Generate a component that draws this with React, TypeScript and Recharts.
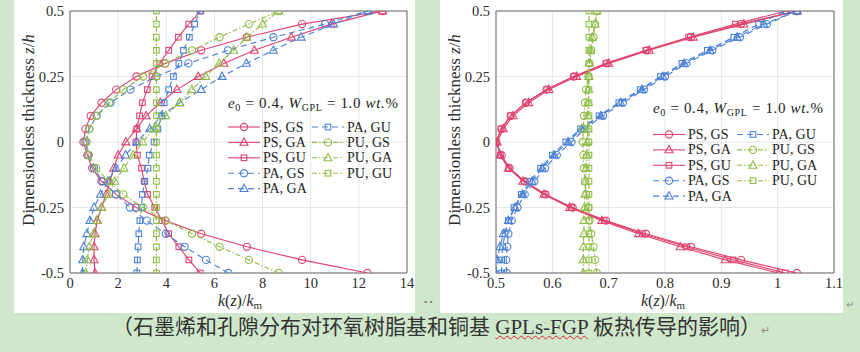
import React from "react";
import {
  CartesianGrid,
  ReferenceArea,
  Scatter,
  ScatterChart,
  XAxis,
  YAxis,
} from "recharts";

// thickness coordinate z/h, bottom to top
const Z = [
  -0.5, -0.45, -0.4, -0.35, -0.3, -0.25, -0.2, -0.15, -0.1, -0.05, 0, 0.05, 0.1,
  0.15, 0.2, 0.25, 0.3, 0.35, 0.4, 0.45, 0.5,
];
const Z_TICKS = [-0.5, -0.25, 0, 0.25, 0.5];
const EPOXY_TICKS = [0, 2, 4, 6, 8, 10, 12, 14];
const COPPER_TICKS = [0.5, 0.6, 0.7, 0.8, 0.9, 1.0, 1.1];

// epoxy matrix k(z)/km
const EPOXY_PS_GS = [12.36, 9.64, 7.35, 5.45, 3.96, 2.75, 1.91, 1.31, 0.92, 0.72, 0.56, 0.64, 0.86, 1.31, 1.92, 2.76, 3.95, 5.45, 7.34, 9.64, 12.98];
const EPOXY_PS_GA = [1.04, 1.0, 1.0, 1.04, 1.13, 1.31, 1.5, 1.65, 1.82, 2.0, 2.32, 2.76, 3.16, 3.75, 4.44, 5.33, 6.39, 7.66, 9.2, 10.85, 12.98];
const EPOXY_PS_GU = [5.41, 4.94, 4.52, 4.1, 3.82, 3.52, 3.22, 3.08, 2.97, 2.8, 2.74, 2.78, 2.89, 3.01, 3.21, 3.41, 3.73, 4.1, 4.5, 4.93, 5.43];
const EPOXY_PA_GS = [6.58, 5.65, 4.76, 3.98, 3.19, 2.49, 1.91, 1.36, 1.0, 0.76, 0.64, 0.8, 1.11, 1.68, 2.51, 3.59, 4.92, 6.56, 8.45, 10.6, 12.36];
const EPOXY_PA_GA = [0.52, 0.53, 0.57, 0.7, 0.83, 1.0, 1.27, 1.58, 1.91, 2.31, 2.77, 3.31, 3.8, 4.56, 5.45, 6.32, 7.33, 8.45, 9.6, 10.95, 12.36];
const EPOXY_PA_GU = [2.78, 2.8, 2.83, 2.86, 2.9, 2.97, 3.01, 3.11, 3.24, 3.29, 3.49, 3.65, 3.8, 3.91, 4.1, 4.3, 4.52, 4.71, 4.96, 5.18, 5.4];
const EPOXY_PU_GS = [8.67, 7.43, 6.21, 5.07, 3.97, 3.04, 2.22, 1.61, 1.09, 0.78, 0.69, 0.8, 1.1, 1.62, 2.21, 3.04, 3.96, 5.07, 6.21, 7.43, 8.67];
const EPOXY_PU_GA = [0.66, 0.72, 0.8, 0.97, 1.1, 1.31, 1.59, 1.86, 2.24, 2.62, 3.02, 3.5, 3.97, 4.55, 5.06, 5.64, 6.2, 6.8, 7.35, 8.0, 8.67];
const EPOXY_PU_GU = [3.59, 3.59, 3.59, 3.59, 3.59, 3.59, 3.59, 3.59, 3.59, 3.59, 3.59, 3.59, 3.59, 3.59, 3.59, 3.59, 3.59, 3.59, 3.59, 3.59, 3.59];

// copper matrix k(z)/km
const COPPER_PS_GS = [1.034, 0.935, 0.846, 0.766, 0.695, 0.636, 0.588, 0.551, 0.524, 0.51, 0.5, 0.51, 0.526, 0.553, 0.59, 0.638, 0.697, 0.768, 0.846, 0.935, 1.034];
const COPPER_PS_GA = [1.001, 0.907, 0.827, 0.753, 0.688, 0.631, 0.585, 0.548, 0.522, 0.507, 0.502, 0.513, 0.53, 0.558, 0.594, 0.643, 0.7, 0.772, 0.85, 0.94, 1.035];
const COPPER_PS_GU = [1.013, 0.921, 0.838, 0.76, 0.692, 0.634, 0.587, 0.55, 0.523, 0.508, 0.5, 0.509, 0.526, 0.553, 0.59, 0.638, 0.695, 0.766, 0.842, 0.925, 1.015];
const COPPER_PA_GS = [0.519, 0.518, 0.52, 0.522, 0.528, 0.538, 0.551, 0.568, 0.587, 0.608, 0.634, 0.657, 0.69, 0.725, 0.763, 0.8, 0.838, 0.884, 0.933, 0.981, 1.034];
const COPPER_PA_GA = [0.5, 0.502, 0.507, 0.513, 0.522, 0.534, 0.547, 0.564, 0.582, 0.603, 0.628, 0.652, 0.686, 0.721, 0.759, 0.796, 0.834, 0.88, 0.928, 0.975, 1.034];
const COPPER_PA_GU = [0.51, 0.51, 0.512, 0.516, 0.522, 0.532, 0.545, 0.56, 0.579, 0.6, 0.624, 0.65, 0.683, 0.718, 0.756, 0.792, 0.83, 0.875, 0.922, 0.966, 1.013];
const COPPER_PU_GS = [0.679, 0.676, 0.673, 0.669, 0.666, 0.664, 0.66, 0.658, 0.656, 0.655, 0.654, 0.655, 0.656, 0.658, 0.66, 0.664, 0.666, 0.669, 0.673, 0.676, 0.679];
const COPPER_PU_GA = [0.655, 0.655, 0.655, 0.656, 0.656, 0.657, 0.658, 0.659, 0.66, 0.661, 0.662, 0.663, 0.663, 0.664, 0.664, 0.665, 0.666, 0.668, 0.671, 0.676, 0.679];
const COPPER_PU_GU = [0.665, 0.665, 0.665, 0.665, 0.665, 0.665, 0.665, 0.665, 0.665, 0.665, 0.665, 0.665, 0.665, 0.665, 0.665, 0.665, 0.665, 0.665, 0.665, 0.665, 0.665];

const SERIES = [
  { label: "PS, GS", p: "PS", g: "GS", epoxy: EPOXY_PS_GS, copper: COPPER_PS_GS },
  { label: "PS, GA", p: "PS", g: "GA", epoxy: EPOXY_PS_GA, copper: COPPER_PS_GA },
  { label: "PS, GU", p: "PS", g: "GU", epoxy: EPOXY_PS_GU, copper: COPPER_PS_GU },
  { label: "PA, GS", p: "PA", g: "GS", epoxy: EPOXY_PA_GS, copper: COPPER_PA_GS },
  { label: "PA, GA", p: "PA", g: "GA", epoxy: EPOXY_PA_GA, copper: COPPER_PA_GA },
  { label: "PA, GU", p: "PA", g: "GU", epoxy: EPOXY_PA_GU, copper: COPPER_PA_GU },
  { label: "PU, GS", p: "PU", g: "GS", epoxy: EPOXY_PU_GS, copper: COPPER_PU_GS },
  { label: "PU, GA", p: "PU", g: "GA", epoxy: EPOXY_PU_GA, copper: COPPER_PU_GA },
  { label: "PU, GU", p: "PU", g: "GU", epoxy: EPOXY_PU_GU, copper: COPPER_PU_GU },
];

const BG = "#cfe7cb";
const SERIF = "'Liberation Serif', 'Times New Roman', serif";
const COLOR: Record<string, string> = { PS: "#e0436f", PA: "#4a80d8", PU: "#8fbd46" };
const DASH: Record<string, string | undefined> = { PS: undefined, PA: "6 4", PU: "5 2 1.5 2" };

function Marker({ cx, cy, g, color }: { cx?: number; cy?: number; g: string; color: string }) {
  if (cx == null || cy == null) return null;
  const common = { fill: "none", stroke: color, strokeWidth: 1.1 };
  if (g === "GS") return <circle cx={cx} cy={cy} r={3.6} {...common} />;
  if (g === "GU") return <rect x={cx - 2.8} y={cy - 2.8} width={5.6} height={5.6} {...common} />;
  return (
    <polygon
      points={`${cx},${cy - 4.4} ${cx - 4},${cy + 2.9} ${cx + 4},${cy + 2.9}`}
      {...common}
    />
  );
}

const fmt = (v: number) => String(v);

function Panel({
  which,
  ticks,
  width,
  marginLeft,
  marginRight,
}: {
  which: "epoxy" | "copper";
  ticks: number[];
  width: number;
  marginLeft: number;
  marginRight: number;
}) {
  const lo = ticks[0];
  const hi = ticks[ticks.length - 1];
  const tickStyle = { fontFamily: SERIF, fontSize: 14.5, fill: "#2b2b2b" };
  return (
    <ScatterChart
      width={width}
      height={313}
      margin={{ top: 11, right: marginRight, bottom: 10, left: marginLeft }}
    >
      <CartesianGrid stroke="#e4e4e4" strokeWidth={1} />
      <XAxis
        type="number"
        dataKey="k"
        domain={[lo, hi]}
        ticks={ticks}
        tickFormatter={fmt}
        allowDataOverflow
        axisLine={false}
        tickLine={false}
        tickSize={0}
        tickMargin={5}
        height={30}
        tick={tickStyle}
      />
      <YAxis
        type="number"
        dataKey="z"
        domain={[-0.5, 0.5]}
        ticks={Z_TICKS}
        tickFormatter={fmt}
        allowDataOverflow
        axisLine={false}
        tickLine={false}
        tickSize={0}
        tickMargin={6}
        width={40}
        tick={tickStyle}
      />
      {SERIES.map((s) => {
        const color = COLOR[s.p];
        const data = s[which].map((k, i) => ({ k, z: Z[i] }));
        return (
          <Scatter
            key={s.label}
            name={s.label}
            data={data}
            isAnimationActive={false}
            fill="none"
            line={{ stroke: color, strokeWidth: 1.15, strokeDasharray: DASH[s.p] }}
            shape={(props: any) => <Marker cx={props.cx} cy={props.cy} g={s.g} color={color} />}
          />
        );
      })}
      <ReferenceArea
        x1={lo}
        x2={hi}
        y1={-0.5}
        y2={0.5}
        fill="none"
        stroke="#6a6a6a"
        strokeWidth={1}
        ifOverflow="visible"
      />
    </ScatterChart>
  );
}

function LegendBlock({ x, y }: { x: number; y: number }) {
  return (
    <g>
      {SERIES.map((s, i) => {
        const col = i < 5 ? 0 : 1;
        const row = i < 5 ? i : i - 5;
        const lx = x + col * 84;
        const ly = y + row * 15.4;
        const color = COLOR[s.p];
        return (
          <g key={s.label}>
            <line
              x1={lx}
              x2={lx + 32}
              y1={ly}
              y2={ly}
              stroke={color}
              strokeWidth={1.1}
              strokeDasharray={DASH[s.p]}
            />
            <Marker cx={lx + 16} cy={ly} g={s.g} color={color} />
            <text
              x={lx + 35}
              y={ly}
              dominantBaseline="central"
              fontFamily={SERIF}
              fontSize={14}
              fill="#222"
            >
              {s.label}
            </text>
          </g>
        );
      })}
    </g>
  );
}

function Annotation({ x, y }: { x: number; y: number }) {
  return (
    <text x={x} y={y} fontFamily={SERIF} fontSize={15} fill="#222" textLength={170} lengthAdjust="spacing">
      <tspan fontStyle="italic">e</tspan>
      <tspan fontSize={10} dy={3}>0</tspan>
      <tspan dy={-3}> = 0.4, </tspan>
      <tspan fontStyle="italic">W</tspan>
      <tspan fontSize={10} dy={3}>GPL</tspan>
      <tspan dy={-3}> = 1.0 </tspan>
      <tspan fontStyle="italic">wt.</tspan>
      <tspan>%</tspan>
    </text>
  );
}

function YTitle({ x, y }: { x: number; y: number }) {
  return (
    <text
      transform={`translate(${x},${y}) rotate(-90)`}
      textAnchor="middle"
      dominantBaseline="central"
      fontFamily={SERIF}
      fontSize={17}
      fill="#2b2b2b"
    >
      Dimensionless thickness <tspan fontStyle="italic">z</tspan>/<tspan fontStyle="italic">h</tspan>
    </text>
  );
}

function XTitle({ x, y }: { x: number; y: number }) {
  return (
    <text x={x} y={y} textAnchor="middle" fontFamily={SERIF} fontSize={16} fill="#2b2b2b">
      <tspan fontStyle="italic">k</tspan>(<tspan fontStyle="italic">z</tspan>)/<tspan fontStyle="italic">k</tspan>
      <tspan fontSize={11} dy={3}>m</tspan>
    </text>
  );
}

export default function App() {
  return (
    <div style={{ position: "relative", width: 860, height: 352, background: BG, overflow: "hidden" }}>
      <style>{"body{margin:0}"}</style>
      <div style={{ position: "absolute", left: 14, top: 0, width: 401, height: 313, background: "#fff" }}>
        <Panel which="epoxy" ticks={EPOXY_TICKS} width={401} marginLeft={16} marginRight={8} />
      </div>
      <div style={{ position: "absolute", left: 440, top: 0, width: 403, height: 313, background: "#fff" }}>
        <Panel which="copper" ticks={COPPER_TICKS} width={403} marginLeft={16} marginRight={9} />
      </div>
      <svg
        width={860}
        height={352}
        style={{ position: "absolute", left: 0, top: 0, pointerEvents: "none" }}
      >
        <YTitle x={28} y={130} />
        <YTitle x={454} y={130} />
        <XTitle x={240} y={306} />
        <XTitle x={663} y={306} />
        <Annotation x={228} y={108} />
        <Annotation x={653} y={113} />
        <LegendBlock x={228} y={127} />
        <LegendBlock x={653} y={134.5} />
        <text x={424} y={305} fontSize={9} fill="#777" fontFamily={SERIF}>• •</text>
        <text x={846} y={308} fontSize={10} fill="#888" fontFamily={SERIF}>↵</text>
      </svg>
      <div
        style={{
          position: "absolute",
          left: 112,
          top: 315,
          whiteSpace: "nowrap",
          fontFamily: "'Liberation Serif', 'Noto Sans CJK SC', serif",
          fontSize: 21,
          lineHeight: "25px",
          color: "#333",
        }}
      >
        （石墨烯和孔隙分布对环氧树脂基和铜基{" "}
        <span style={{ textDecoration: "underline wavy #d22", textDecorationThickness: 1 }}>GPLs-FGP</span> 板热传导的影响）
        <span style={{ fontSize: 11, color: "#888" }}>↵</span>
      </div>
    </div>
  );
}
